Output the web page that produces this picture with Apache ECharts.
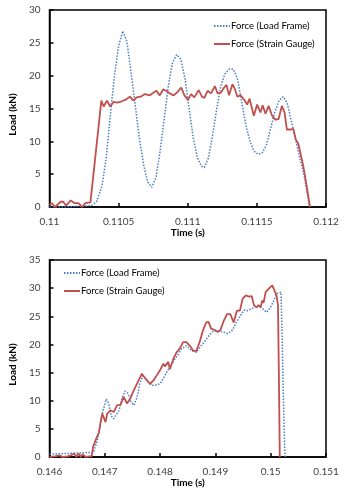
<!DOCTYPE html>
<html>
<head>
<meta charset="utf-8">
<script src="https://cdn.jsdelivr.net/npm/echarts@6/dist/echarts.min.js"></script>
<style>
  html, body { margin: 0; padding: 0; background: #fff; }
  #main { width: 350px; height: 503px; }
</style>
</head>
<body>
<div id="main"></div>
<script>
// top test: [time (s), load (kN)]
const topLoadFrame = [
  [0.11000, 0], [0.11010, 0], [0.11020, 0.1], [0.11030, 0.2], [0.11034, 0.8],
  [0.11038, 3.2], [0.11041, 7.5], [0.11044, 14], [0.11047, 20], [0.11050, 24.5],
  [0.11053, 26.8], [0.11056, 25.2], [0.11059, 20.5], [0.11062, 15.5], [0.11065, 10.5],
  [0.11068, 6.5], [0.11071, 3.8], [0.11074, 3.0], [0.11077, 4.5], [0.11080, 8.5],
  [0.11083, 13.5], [0.11086, 18.5], [0.11089, 22], [0.11092, 23.2], [0.11095, 22.5],
  [0.11098, 19.5], [0.11101, 15], [0.11104, 10.5], [0.11107, 7.5], [0.11110, 6.2],
  [0.11112, 6.0], [0.11115, 7.5], [0.11118, 11], [0.11121, 15], [0.11124, 18.5],
  [0.11127, 20.3], [0.11130, 21], [0.11133, 21], [0.11136, 19.5], [0.11139, 16],
  [0.11142, 12.5], [0.11145, 10], [0.11148, 8.5], [0.11151, 8], [0.11154, 8.3],
  [0.11157, 9.5], [0.11160, 12], [0.11163, 14.5], [0.11166, 16.2], [0.11169, 16.8],
  [0.11172, 15.8], [0.11175, 13], [0.11178, 10.3], [0.11181, 7.5], [0.11184, 5],
  [0.11186, 2.5], [0.11188, 0.3]
];
const topStrainGauge = [
  [0.11000, 0.3], [0.110016, 0.6], [0.11004, 0], [0.110081, 0.8], [0.11010, 0.8],
  [0.11012, 0.2], [0.110153, 1.0], [0.11018, 0.6], [0.11021, 0.6], [0.110236, 0],
  [0.11026, 0.6], [0.110296, 0.7], [0.110375, 16.2], [0.110392, 15.3], [0.110415, 16.2],
  [0.110439, 15.3], [0.110463, 16.0], [0.11049, 15.9], [0.110523, 16.1], [0.110555, 16.4],
  [0.110582, 16.8], [0.110607, 16.2], [0.110630, 16.7], [0.110660, 16.8], [0.110690, 17.2],
  [0.110702, 17.0], [0.110726, 17.0], [0.110750, 17.4], [0.110774, 17.7], [0.110797, 17.0],
  [0.110822, 17.9], [0.110845, 17.7], [0.110869, 17.3], [0.110898, 17.0], [0.110925, 17.5],
  [0.110953, 18.2], [0.110976, 17.0], [0.111001, 16.3], [0.111024, 17.2], [0.111048, 16.7],
  [0.111079, 17.8], [0.111103, 16.8], [0.111120, 16.6], [0.111144, 17.7], [0.111168, 17.3],
  [0.111196, 18.4], [0.111216, 17.3], [0.111239, 17.4], [0.111263, 18.2], [0.111280, 18.6],
  [0.111299, 17.0], [0.111323, 18.7], [0.111342, 17.9], [0.111359, 16.8], [0.111382, 17.0],
  [0.111406, 16.4], [0.111430, 15.6], [0.111447, 16.5], [0.111478, 13.9], [0.111502, 15.6],
  [0.111526, 14.4], [0.111542, 15.5], [0.111562, 14.2], [0.111585, 15.4], [0.111610, 13.9],
  [0.111633, 13.3], [0.111657, 13.4], [0.111681, 15.4], [0.111700, 14.4], [0.111717, 11.8],
  [0.111741, 11.8], [0.111764, 11.9], [0.111781, 10.3], [0.111800, 9.6], [0.111812, 9.3],
  [0.111836, 6.2], [0.111860, 3.2], [0.111884, 0]
];

// bottom test
const botLoadFrame = [
  [0.146000, 0.5], [0.146238, 0.6], [0.146507, 0.7], [0.146686, 0.8], [0.146793, 0.8],
  [0.146865, 2.9], [0.146954, 7.7], [0.147026, 10.3], [0.147071, 9.5], [0.147115, 7.3],
  [0.147160, 6.8], [0.147205, 7.5], [0.147259, 8.3], [0.147312, 10.5], [0.147366, 11.7],
  [0.147420, 11.3], [0.147473, 9.8], [0.147527, 9.2], [0.147581, 10.5], [0.147634, 13],
  [0.147688, 14.5], [0.147742, 14.0], [0.147796, 13.3], [0.147849, 12.7], [0.147921, 12.8],
  [0.147998, 13.0], [0.148064, 14], [0.148118, 15.1], [0.148189, 16.2], [0.148266, 17.4],
  [0.148333, 18.3], [0.148386, 19.2], [0.148476, 19.8], [0.148565, 18.9], [0.148655, 18.6],
  [0.148744, 19.8], [0.148803, 20.5], [0.148864, 21.3], [0.148954, 22.3], [0.149031, 22.4],
  [0.149102, 22.3], [0.149174, 22.1], [0.149222, 21.9], [0.149312, 22.6], [0.149371, 23.8],
  [0.149430, 24.8], [0.149520, 26.1], [0.149580, 26.0], [0.149670, 26.4], [0.149759, 26.9],
  [0.149849, 26.4], [0.149926, 25.7], [0.149997, 26.6], [0.150057, 27.8], [0.150105, 29.0],
  [0.150141, 29.3], [0.150186, 29.3], [0.150207, 21.3], [0.150225, 12.4], [0.150254, 0.9],
  [0.150266, 0]
];
const botStrainGauge = [
  [0.146000, 0], [0.146095, 0.1], [0.146179, 0.3], [0.146238, 0], [0.146328, 0.1],
  [0.146387, 0.3], [0.146448, 0.6], [0.146489, 0], [0.146525, 0.6], [0.146566, 0],
  [0.146596, 0.5], [0.146655, 0], [0.146716, 0.1], [0.146763, 0.1], [0.146788, 1.8],
  [0.146834, 3.0], [0.146895, 4.4], [0.146924, 6.2], [0.146954, 7.7], [0.146985, 7.4],
  [0.147013, 6.2], [0.147044, 7.7], [0.147103, 8.3], [0.147164, 8.0], [0.147223, 9.2],
  [0.147282, 9.2], [0.147343, 10.7], [0.147402, 9.5], [0.147461, 10.4], [0.147522, 11.8],
  [0.147581, 13.0], [0.147640, 14.2], [0.147670, 14.8], [0.147706, 14.3], [0.147760, 13.6],
  [0.147819, 13.0], [0.147880, 13.6], [0.147939, 14.5], [0.147998, 15.4], [0.148059, 16.6],
  [0.148087, 16.1], [0.148148, 16.9], [0.148177, 15.6], [0.148238, 17.4], [0.148297, 18.6],
  [0.148351, 19.2], [0.148417, 20.4], [0.148476, 20.4], [0.148535, 19.8], [0.148596, 18.9],
  [0.148655, 18.8], [0.148714, 20.4], [0.148775, 22.5], [0.148834, 23.9], [0.148875, 24.0],
  [0.148923, 22.8], [0.148982, 22.6], [0.149043, 22.2], [0.149093, 22.6], [0.149151, 24.2],
  [0.149210, 25.4], [0.149269, 25.4], [0.149330, 23.9], [0.149389, 26.0], [0.149443, 26.0],
  [0.149491, 28.1], [0.149550, 28.7], [0.149609, 28.5], [0.149657, 28.6], [0.149699, 26.9],
  [0.149747, 26.6], [0.149783, 27.0], [0.149818, 26.6], [0.149849, 27.8], [0.149872, 27.4],
  [0.149908, 29.3], [0.149967, 29.9], [0.150028, 30.5], [0.150057, 30.2], [0.150105, 28.7],
  [0.150132, 27.0], [0.150150, 13], [0.150164, 0]
];

const seriesNames = ["Force (Load Frame)", "Force (Strain Gauge)"];
const BLUE = "#4a7ec8";
const RED = "#c0504d";
const FONT = "Lato";

function xAxisFor(gridIndex, min, max, interval) {
  return {
    type: "value", gridIndex, min, max, interval,
    name: "Time (s)", nameLocation: "middle", nameGap: 20,
    nameTextStyle: { fontFamily: FONT, fontSize: 10, fontWeight: "bold", color: "#000" },
    axisLine: { lineStyle: { color: "#000", width: 1.5 } },
    axisTick: { inside: true, length: 4, lineStyle: { color: "#000", width: 1.5 } },
    axisLabel: {
      fontFamily: FONT, fontSize: 10, color: "#404040", margin: 10,
      formatter: (v) => String(parseFloat(v.toFixed(5)))
    },
    splitLine: { show: false }
  };
}
function yAxisFor(gridIndex, max) {
  return {
    type: "value", gridIndex, min: 0, max, interval: 5,
    name: "Load (kN)", nameLocation: "middle", nameGap: 27, nameRotate: 90,
    nameTextStyle: { fontFamily: FONT, fontSize: 10, fontWeight: "bold", color: "#000", padding: [0, 12, 0, 0] },
    axisLine: { lineStyle: { color: "#000", width: 1.5 } },
    axisTick: { inside: true, length: 4, lineStyle: { color: "#000", width: 1.5 } },
    axisLabel: { fontFamily: FONT, fontSize: 10, color: "#404040", margin: 9 },
    splitLine: { show: false }
  };
}
function lineSeries(name, data, idx, color, dotted) {
  return {
    name, type: "line", data, xAxisIndex: idx, yAxisIndex: idx,
    symbol: "none", showSymbol: false, animation: false,
    itemStyle: { color },
    lineStyle: { color, width: dotted ? 1.5 : 1.8, type: dotted ? [1.5, 1.5] : "solid" }
  };
}
const legendStyle = {
  orient: "vertical", itemWidth: 16, itemHeight: 10, itemGap: 8, padding: 0,
  itemStyle: { opacity: 0 },
  textStyle: { fontFamily: FONT, fontSize: 9.5, color: "#000", padding: [0, 0, 0, -4] },
  data: seriesNames
};

const option = {
  animation: false,
  backgroundColor: "#fff",
  grid: [
    { left: 47, top: 10, right: 24, height: 197, show: true, borderColor: "#000", borderWidth: 1.5 },
    { left: 47, top: 260, right: 24, height: 197, show: true, borderColor: "#000", borderWidth: 1.5 }
  ],
  xAxis: [xAxisFor(0, 0.11, 0.112, 0.0005), xAxisFor(1, 0.146, 0.151, 0.001)],
  yAxis: [yAxisFor(0, 30), yAxisFor(1, 35)],
  legend: [
    Object.assign({ left: 213, top: 21 }, legendStyle),
    Object.assign({ left: 63, top: 268 }, legendStyle)
  ],
  series: [
    lineSeries(seriesNames[0], topLoadFrame, 0, BLUE, true),
    lineSeries(seriesNames[1], topStrainGauge, 0, RED, false),
    lineSeries(seriesNames[0], botLoadFrame, 1, BLUE, true),
    lineSeries(seriesNames[1], botStrainGauge, 1, RED, false)
  ]
};

const chart = echarts.init(document.getElementById("main"));
chart.setOption(option);
window.onresize = function () { chart.resize(); };
</script>
</body>
</html>
